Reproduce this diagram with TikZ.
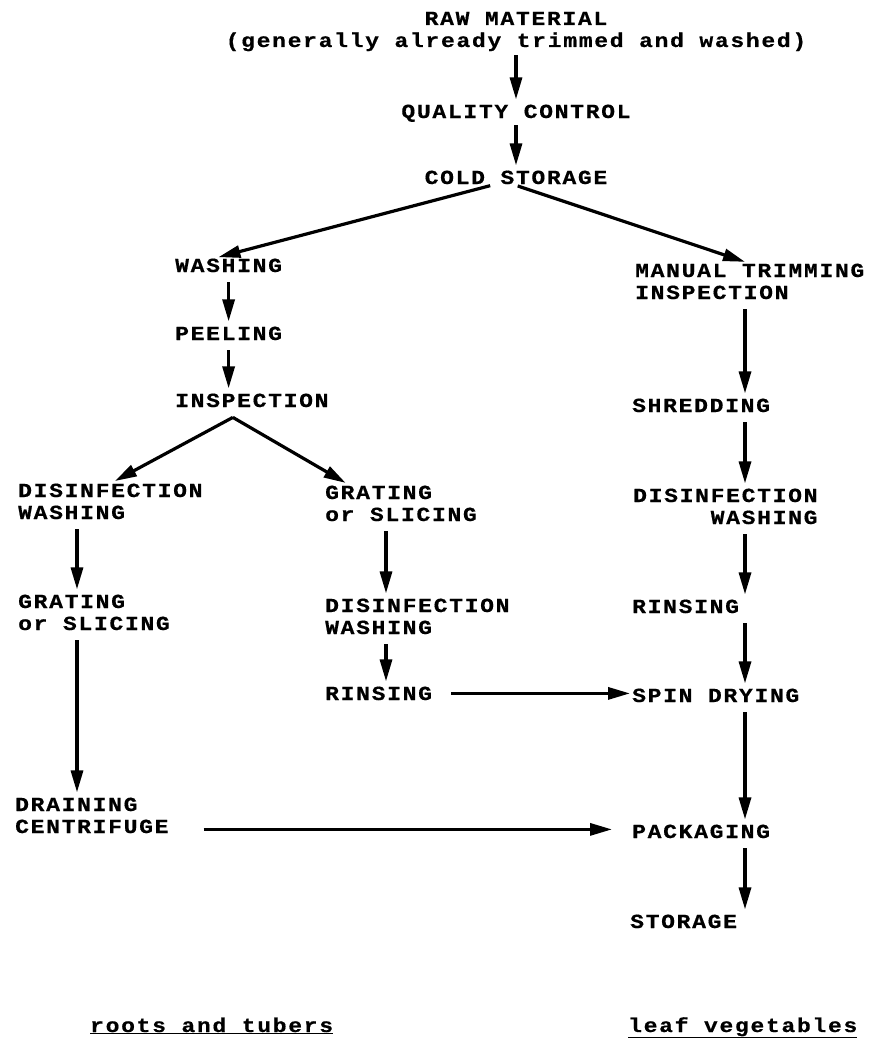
\documentclass[tikz,border=0pt]{standalone}
\usepackage{fontspec}
\newfontfamily\flowfont{Liberation Mono}[FakeStretch=1.15,LetterSpace=8.5,BoldFeatures={FakeBold=0.5}]
\usetikzlibrary{arrows.meta}

\begin{document}
\begin{tikzpicture}[x=1pt,y=-1pt,
    lbl/.style={font=\flowfont\bfseries\fontsize{20}{22}\selectfont,inner sep=0pt,anchor=base west,align=left},
    flow/.style={line width=3.2pt,-{Triangle[length=22pt,width=12pt]},shorten <=10pt,shorten >=5pt}]
  \useasboundingbox (0,0) rectangle (871,1046);
  \coordinate (colL) at (77,0);
  \coordinate (colM) at (386,0);
  \coordinate (colR) at (745,0);
  % common trunk
  \node[lbl,anchor=base,align=center] (raw) at (516,47) {RAW MATERIAL\\(generally already trimmed and washed)};
  \node[lbl,anchor=base] (qc) at (516,118) {QUALITY CONTROL};
  \node[lbl,anchor=base] (cold) at (516,184) {COLD STORAGE};
  % roots and tubers
  \node[lbl] (washing) at (175,272) {WASHING};
  \node[lbl] (peeling) at (175,340) {PEELING};
  \node[lbl] (insp) at (175,407) {INSPECTION};
  \node[lbl] (disL) at (18,519) {DISINFECTION\\WASHING};
  \node[lbl] (gratL) at (18,630) {GRATING\\or SLICING};
  \node[lbl] (drain) at (15,833) {DRAINING\\CENTRIFUGE};
  \node[lbl] (gratM) at (325,521) {GRATING\\or SLICING};
  \node[lbl] (disM) at (325,634) {DISINFECTION\\WASHING};
  \node[lbl] (rinseM) at (325,700) {RINSING};
  % leaf vegetables
  \node[lbl] (trim) at (635,299) {MANUAL TRIMMING\\INSPECTION};
  \node[lbl] (shred) at (632,412) {SHREDDING};
  \node[lbl,align=right] (disR) at (633,524) {DISINFECTION\\WASHING};
  \node[lbl] (rinseR) at (632,613) {RINSING};
  \node[lbl] (spin) at (632,702) {SPIN DRYING};
  \node[lbl] (pack) at (632,838) {PACKAGING};
  \node[lbl] (store) at (630,928) {STORAGE};
  \node[lbl] (roots) at (90,1032) {\underline{roots and tubers}};
  \node[lbl] (leaf) at (628,1032) {\underline{leaf vegetables}};
  \coordinate (split) at ([xshift=-19pt,yshift=-10pt]insp.south);

  \draw[flow,shorten <=4pt] (raw.south) -- (qc.north);
  \draw[flow,shorten <=3pt] (qc.south) -- (cold.north);
  \draw[flow,shorten <=5pt] ([xshift=-21pt]cold.south) -- ([xshift=-15pt]washing.north);
  \draw[flow,shorten <=5pt] ([xshift=-3pt]cold.south) -- (trim.north);
  \draw[flow] (washing.south) -- (peeling.north);
  \draw[flow] (peeling.south) -- (peeling.south |- insp.north);
  \draw[flow,shorten <=0pt] (split) -- (disL.north);
  \draw[flow,shorten <=0pt] (split) -- ([xshift=25pt]gratM.north west);
  \draw[flow] (disL.south -| colL) -- (gratL.north -| colL);
  \draw[flow] (gratL.south -| colL) -- (drain.north -| colL);
  \draw[flow] (gratM.south -| colM) -- (disM.north -| colM);
  \draw[flow] (disM.south -| colM) -- (rinseM.north -| colM);
  \draw[flow] (trim.south -| colR) -- (shred.north -| colR);
  \draw[flow] (shred.south -| colR) -- (disR.north -| colR);
  \draw[flow] (disR.south -| colR) -- (rinseR.north -| colR);
  \draw[flow] (rinseR.south -| colR) -- (spin.north -| colR);
  \draw[flow] (spin.south -| colR) -- (pack.north -| colR);
  \draw[flow] (pack.south -| colR) -- (store.north -| colR);
  \draw[flow,shorten <=19pt,shorten >=2pt] (rinseM.east) -- (rinseM.east -| spin.west);
  \draw[flow,shorten <=35pt,shorten >=20pt] ([yshift=4pt]drain.south east) -- ([yshift=4pt]drain.south east -| pack.west);
\end{tikzpicture}
\end{document}
